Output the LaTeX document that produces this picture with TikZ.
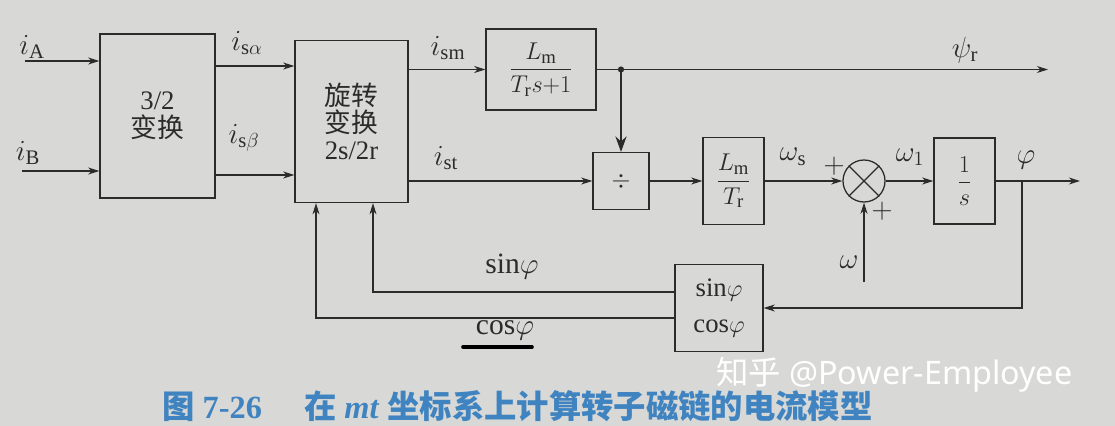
\documentclass[tikz,border=0pt]{standalone}
\usepackage{amsmath}
\usepackage{fontspec}
\setmainfont{Liberation Serif}
\newfontfamily\cjk{Noto Sans CJK SC}
\newfontfamily\wmfont{Noto Sans}
\usetikzlibrary{arrows.meta}
\definecolor{bg}{HTML}{D8D8D6}
\definecolor{ink}{HTML}{2B2B2B}
\definecolor{capblue}{HTML}{3F84C0}
\begin{document}
\begin{tikzpicture}[x=0.025cm,y=-0.025cm,
  blk/.style={draw=ink,line width=0.9pt,inner sep=0pt,align=center,text=ink,font=\fontsize{19}{22}\selectfont},
  arr/.style={draw=ink,line width=0.8pt,-{Stealth[length=8pt,width=5pt]}},
  lbl/.style={text=ink,font=\fontsize{21}{24}\selectfont,inner sep=1pt}]
\fill[bg] (0,0) rectangle (1115,426);
\useasboundingbox (0,0) rectangle (1115,426);
% blocks
\node[blk,minimum width=2.875cm,minimum height=4.1cm] (A) at (157.5,116) {3/2\\[-2pt]{\cjk 变换}};
\node[blk,minimum width=2.825cm,minimum height=4.05cm] (B) at (351.5,121.5) {{\cjk 旋转}\\[-3pt]{\cjk 变换}\\[-3pt]2s/2r};
\node[blk,minimum width=2.75cm,minimum height=2.025cm] (C) at (541,69.5) {$\dfrac{L_\mathrm{m}}{T_\mathrm{r}s{+}1}$};
\node[blk,minimum width=1.4cm,minimum height=1.425cm] (D) at (621,181) {$\div$};
\node[blk,minimum width=1.525cm,minimum height=2.175cm] (E) at (733.5,181) {$\dfrac{L_\mathrm{m}}{T_\mathrm{r}}$};
\node[draw=ink,line width=0.9pt,circle,minimum size=1.05cm,inner sep=0pt] (S) at (864,181) {};
\draw[ink,line width=0.9pt] (S.north west) -- (S.south east) (S.north east) -- (S.south west);
\node[blk,minimum width=1.525cm,minimum height=2.15cm] (F) at (964.5,181) {$\dfrac{1}{s}$};
\node[blk,minimum width=2.2cm,minimum height=2.175cm] (G) at (719,308) {$\mathrm{sin}\varphi$\\[4pt]$\mathrm{cos}\varphi$};
% coordinates
\coordinate (ia) at (25,61);
\coordinate (ib) at (22,171);
\coordinate (psi) at (1048,69.5);
\coordinate (br) at (621,69.5);
\coordinate (phiout) at (1080,181);
\coordinate (phib) at (1022,181);
\coordinate (om) at (864,282);
\coordinate (bs) at (B.south -| 373,0);
\coordinate (bc) at (B.south -| 316,0);
% connectors
\draw[arr] (ia) -- (ia -| A.west);
\draw[arr] (ib) -- (ib -| A.west);
\draw[arr] (A.east |- 0,66) -- (B.west |- 0,66);
\draw[arr] (A.east |- 0,175) -- (B.west |- 0,175);
\draw[arr] (B.east |- C.west) -- (C.west);
\draw[arr] (B.east |- D.west) -- (D.west);
\draw[arr] (C.east) -- (psi);
\fill[ink] (br) circle (2.2pt);
\draw[draw=ink,line width=0.8pt,-{Stealth[length=11pt,width=8pt]}] (br) -- (D.north);
\draw[arr] (D.east) -- (E.west);
\draw[arr] (E.east) -- (S.west);
\draw[arr] (S.east) -- (F.west);
\draw[arr] (F.east) -- (phiout);
\draw[arr] (phib) |- (G.east);
\draw[arr] (om) -- (S.south);
\draw[arr] (G.west |- 0,292) -| (bs);
\draw[arr] (G.west |- 0,318) -| (bc);
% labels
\node[lbl] (lia) at (32,47) {$i_\mathrm{A}$};
\node[lbl] (lib) at (28,153) {$i_\mathrm{B}$};
\node[lbl] (lisa) at (247,43) {$i_{\mathrm{s}\alpha}$};
\node[lbl] (lisb) at (244,138) {$i_{\mathrm{s}\beta}$};
\node[lbl] (lism) at (448,48) {$i_\mathrm{sm}$};
\node[lbl] (list) at (446,158) {$i_\mathrm{st}$};
\node[lbl] (lpsi) at (965,50) {$\psi_\mathrm{r}$};
\node[lbl] (lws) at (793,157) {$\omega_\mathrm{s}$};
\node[lbl] (lp1) at (834,166) {$+$};
\node[lbl] (lw1) at (910,157) {$\omega_1$};
\node[lbl] (lp2) at (882,211) {$+$};
\node[lbl] (lphi) at (1026,160) {$\varphi$};
\node[lbl] (lw) at (849,262) {$\omega$};
\node[lbl] (lsin) at (512,267) {$\mathrm{sin}\varphi$};
\node[lbl] (lcos) at (505,330) {$\mathrm{cos}\varphi$};
\draw[black,line width=2.6pt,line cap=round] (463,347) -- (532,347);
% watermark
\node[text=white,inner sep=0pt,anchor=west] (wm) at (716,375) {\fontsize{23}{26}\selectfont{\cjk 知乎} \wmfont @Power-Employee};
% caption
\node[text=capblue,inner sep=0pt,anchor=west] (cap) at (162,406) {\fontsize{23}{26}\selectfont\bfseries{\cjk 图} 7-26\hspace{1.3em}{\cjk 在} \textit{mt} {\cjk 坐标系上计算转子磁链的电流模型}};
\end{tikzpicture}
\end{document}
